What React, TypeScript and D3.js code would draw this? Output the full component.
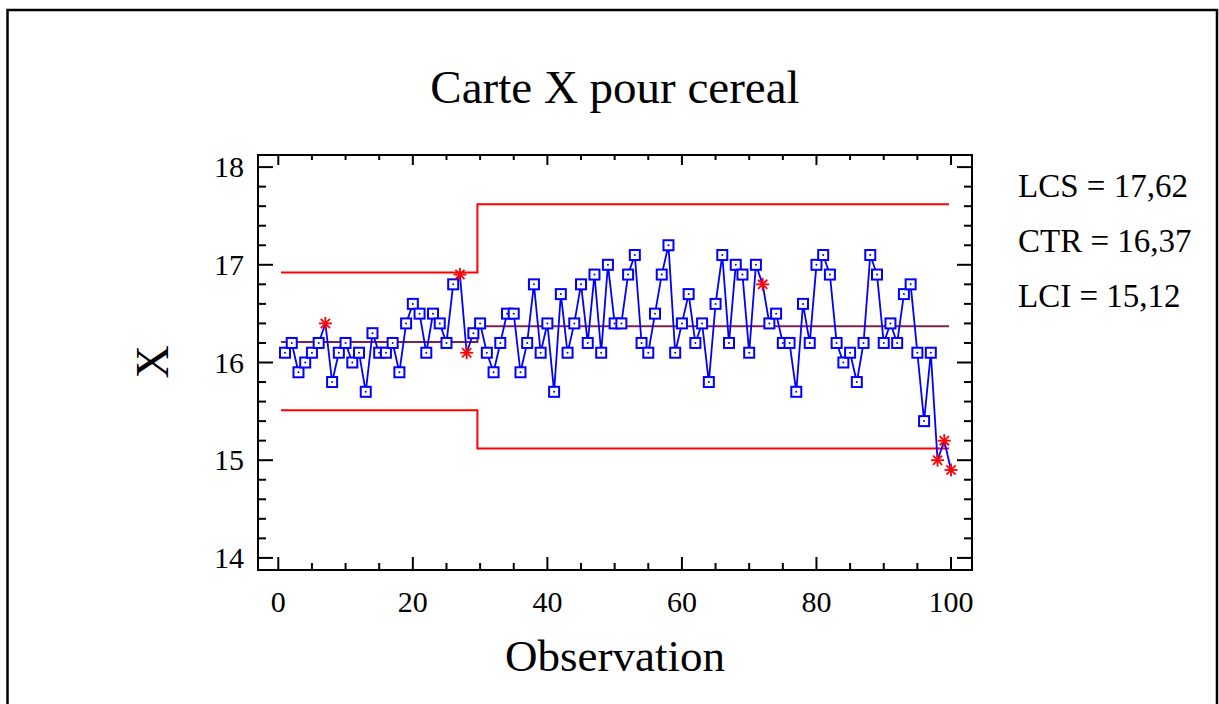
import React from "react";
import * as d3 from "d3";

const observations: number[] = d3.range(1, 101);
const values: number[] = [
  16.1, 16.2, 15.9, 16.0, 16.1, 16.2, 16.4, 15.8, 16.1, 16.2,
  16.0, 16.1, 15.7, 16.3, 16.1, 16.1, 16.2, 15.9, 16.4, 16.6,
  16.5, 16.1, 16.5, 16.4, 16.2, 16.8, 16.9, 16.1, 16.3, 16.4,
  16.1, 15.9, 16.2, 16.5, 16.5, 15.9, 16.2, 16.8, 16.1, 16.4,
  15.7, 16.7, 16.1, 16.4, 16.8, 16.2, 16.9, 16.1, 17.0, 16.4,
  16.4, 16.9, 17.1, 16.2, 16.1, 16.5, 16.9, 17.2, 16.1, 16.4,
  16.7, 16.2, 16.4, 15.8, 16.6, 17.1, 16.2, 17.0, 16.9, 16.1,
  17.0, 16.8, 16.4, 16.5, 16.2, 16.2, 15.7, 16.6, 16.2, 17.0,
  17.1, 16.9, 16.2, 16.0, 16.1, 15.8, 16.2, 17.1, 16.9, 16.2,
  16.4, 16.2, 16.7, 16.8, 16.1, 15.4, 16.1, 15.0, 15.2, 14.9,
];
const flagged: number[] = [7, 27, 28, 72, 98, 99, 100];

const segStart: number[] = [0.4, 29.6];
const segEnd: number[] = [29.6, 99.7];
const uclValues: number[] = [16.92, 17.62];
const ctrValues: number[] = [16.21, 16.37];
const lclValues: number[] = [15.51, 15.12];

const xTicks: number[] = [0, 20, 40, 60, 80, 100];
const yTicks: number[] = [14, 15, 16, 17, 18];
const legendLines: string[] = ["LCS = 17,62", "CTR = 16,37", "LCI = 15,12"];
const title = "Carte X pour cereal";
const xLabel = "Observation";
const yLabel = "X";

const FONT = "'Liberation Serif', 'Times New Roman', serif";

export default function App() {
  const W = 1219, H = 704;
  const box = { left: 258, right: 972, top: 155, bottom: 570 };
  const x = d3.scaleLinear().domain([0, 100]).range([278.3, 951]);
  const y = d3.scaleLinear().domain([14, 18]).range([557.9, 167.1]);

  const xMinor = d3.range(0, 101, 5).filter((v) => v % 20 !== 0);
  const yMinor = d3.range(14, 18.01, 0.2).filter((v) => Math.abs(v - Math.round(v)) > 0.01);

  const stepPath = (vals: number[]) => {
    const p = d3.path();
    p.moveTo(x(segStart[0]), y(vals[0]));
    p.lineTo(x(segEnd[0]), y(vals[0]));
    p.lineTo(x(segStart[1]), y(vals[1]));
    p.lineTo(x(segEnd[1]), y(vals[1]));
    return p.toString();
  };

  const line = d3
    .line<number>()
    .x((_, i) => x(observations[i]))
    .y((d) => y(d));

  const r = 6.5;
  const d45 = r * Math.SQRT1_2;

  return (
    <svg
      width={W}
      height={H}
      style={{ position: "absolute", left: 0, top: 0, background: "#fff" }}
      fontFamily={FONT}
    >
      <rect x={0} y={0} width={W} height={H} fill="#fff" />
      {/* outer frame */}
      <path d={`M7.5,${H + 5} V10 H1217 V${H + 5}`} fill="none" stroke="#000" strokeWidth={2.5} />

      <text x={615} y={103} textAnchor="middle" fontSize={47}>{title}</text>

      {/* plot box */}
      <rect
        x={box.left}
        y={box.top}
        width={box.right - box.left}
        height={box.bottom - box.top}
        fill="none"
        stroke="#000"
        strokeWidth={2}
      />

      {/* y ticks */}
      {yTicks.map((t) => (
        <g key={"y" + t}>
          <line x1={box.left} x2={box.left + 15} y1={y(t)} y2={y(t)} stroke="#000" strokeWidth={2} />
          <line x1={box.right} x2={box.right - 15} y1={y(t)} y2={y(t)} stroke="#000" strokeWidth={2} />
          <text x={244} y={y(t) + 10} textAnchor="end" fontSize={30}>{t}</text>
        </g>
      ))}
      {yMinor.map((t) => (
        <g key={"ym" + t}>
          <line x1={box.left} x2={box.left + 8} y1={y(t)} y2={y(t)} stroke="#000" strokeWidth={2} />
          <line x1={box.right} x2={box.right - 8} y1={y(t)} y2={y(t)} stroke="#000" strokeWidth={2} />
        </g>
      ))}

      {/* x ticks */}
      {xTicks.map((t) => (
        <g key={"x" + t}>
          <line x1={x(t)} x2={x(t)} y1={box.bottom} y2={box.bottom - 13} stroke="#000" strokeWidth={2} />
          <line x1={x(t)} x2={x(t)} y1={box.top} y2={box.top + 10} stroke="#000" strokeWidth={2} />
          <text x={x(t)} y={612} textAnchor="middle" fontSize={30}>{t}</text>
        </g>
      ))}
      {xMinor.map((t) => (
        <g key={"xm" + t}>
          <line x1={x(t)} x2={x(t)} y1={box.bottom} y2={box.bottom - 7} stroke="#000" strokeWidth={2} />
          <line x1={x(t)} x2={x(t)} y1={box.top} y2={box.top + 5} stroke="#000" strokeWidth={2} />
        </g>
      ))}

      <text x={615} y={671} textAnchor="middle" fontSize={45}>{xLabel}</text>
      <text
        transform={`translate(168,362) rotate(-90)`}
        textAnchor="middle"
        fontSize={46}
      >
        {yLabel}
      </text>

      {/* control limits */}
      <path d={stepPath(uclValues)} fill="none" stroke="#ff0000" strokeWidth={2} />
      <path d={stepPath(lclValues)} fill="none" stroke="#ff0000" strokeWidth={2} />
      <path d={stepPath(ctrValues)} fill="none" stroke="#802050" strokeWidth={2} />

      {/* data line */}
      <path d={line(values) || ""} fill="none" stroke="#0000ff" strokeWidth={1.8} />

      {/* markers */}
      {values.map((v, i) => {
        const cx = x(observations[i]);
        const cy = y(v);
        if (flagged.includes(observations[i])) {
          return (
            <g key={"m" + i} stroke="#ff0000" strokeWidth={1.8}>
              <line x1={cx - r} x2={cx + r} y1={cy} y2={cy} />
              <line x1={cx} x2={cx} y1={cy - r} y2={cy + r} />
              <line x1={cx - d45} x2={cx + d45} y1={cy - d45} y2={cy + d45} />
              <line x1={cx - d45} x2={cx + d45} y1={cy + d45} y2={cy - d45} />
            </g>
          );
        }
        return (
          <g key={"m" + i}>
            <rect x={cx - 5} y={cy - 5} width={10} height={10} fill="#fff" stroke="#0000ff" strokeWidth={2} />
            <circle cx={cx} cy={cy} r={1} fill="#0000ff" />
          </g>
        );
      })}

      {/* legend */}
      {legendLines.map((s, i) => (
        <text key={s} x={1018} y={197 + i * 55} fontSize={33}>{s}</text>
      ))}
    </svg>
  );
}
